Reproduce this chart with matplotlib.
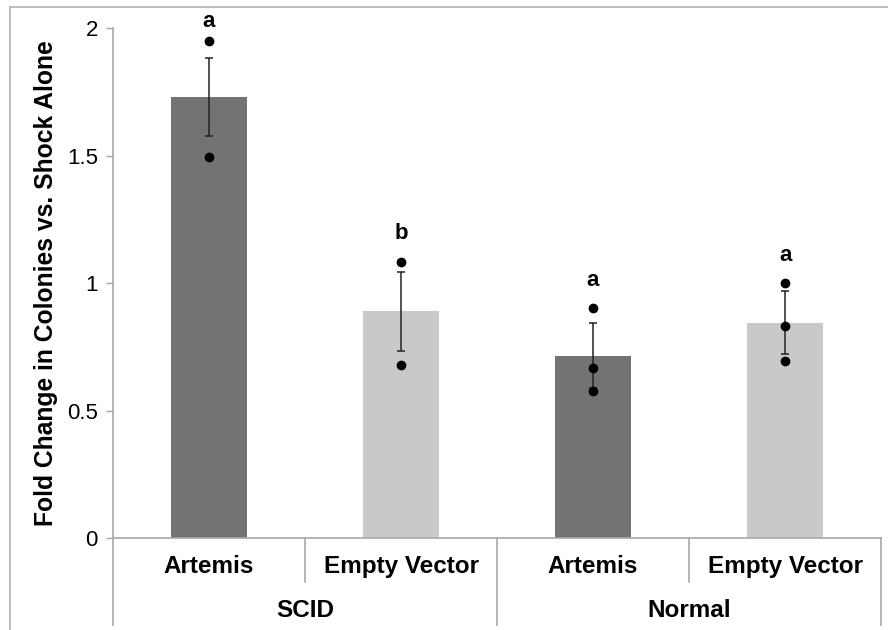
import matplotlib
matplotlib.use("Agg")
import matplotlib.pyplot as plt
from matplotlib.lines import Line2D
import matplotlib.transforms as mtransforms

plt.rcParams['font.family'] = ['Liberation Sans', 'DejaVu Sans']

# Data
groups = ["SCID", "Normal"]
conditions = ["Artemis", "Empty Vector", "Artemis", "Empty Vector"]
means = [1.73, 0.891, 0.716, 0.846]
errors = [0.154, 0.155, 0.127, 0.125]
replicates = [
    [1.951, 1.497],
    [1.085, 0.678],
    [0.902, 0.669, 0.578],
    [1.000, 0.831, 0.697],
]
sig_letters = ["a", "b", "a", "a"]
bar_colors = ["#737373", "#c9c9c9", "#737373", "#c9c9c9"]
yticks = [0, 0.5, 1, 1.5, 2]
ytick_labels = ["0", "0.5", "1", "1.5", "2"]

fig = plt.figure(figsize=(8.88, 6.30), dpi=100)
ax = fig.add_axes([0.1273, 0.1456, 0.8649, 0.8095])

x = list(range(len(means)))
ax.bar(x, means, width=0.4, color=bar_colors, zorder=2)
ax.errorbar(x, means, yerr=errors, fmt="none", ecolor="#222222",
            elinewidth=1.1, capsize=3, capthick=1.1, zorder=3)
for xi, pts in zip(x, replicates):
    ax.plot([xi] * len(pts), pts, "o", color="black", markersize=6, zorder=4)

# significance letters above each group of points
for xi, pts, letter in zip(x, replicates, sig_letters):
    y = min(max(pts) + 0.11, 2.027)
    ax.text(xi, y, letter, ha="center", va="center", fontsize=16,
            fontweight="bold", clip_on=False)

ax.set_xlim(-0.5, 3.5)
ax.set_ylim(0, 2)
ax.set_yticks(yticks)
ax.set_yticklabels(ytick_labels, fontsize=16)
ax.tick_params(axis="y", direction="out", length=5, width=1, color="#a8a8a8",
               pad=6)
ax.set_xticks([])
ax.set_ylabel("Fold Change in Colonies vs. Shock Alone", fontsize=17.7,
              fontweight="bold", labelpad=6)

for side in ["top", "right"]:
    ax.spines[side].set_visible(False)
for side in ["left", "bottom"]:
    ax.spines[side].set_color("#a8a8a8")
    ax.spines[side].set_linewidth(1.2)

# hierarchical category axis
trans = mtransforms.blended_transform_factory(ax.transData, ax.transAxes)
for xb, depth in [(-0.5, -0.17), (0.5, -0.085), (1.5, -0.17),
                  (2.5, -0.085), (3.5, -0.17)]:
    ax.add_line(Line2D([xb, xb], [0, depth], transform=trans, color="#a8a8a8",
                       lw=1.2, clip_on=False))
for xi, label in zip(x, conditions):
    ax.text(xi, -0.056, label, transform=trans, ha="center", va="center",
            fontsize=17.5, fontweight="bold")
for gi, label in enumerate(groups):
    ax.text(2 * gi + 0.5, -0.142, label, transform=trans, ha="center",
            va="center", fontsize=17.5, fontweight="bold")

# outer frame
fig.add_artist(Line2D([10 / 888, 1.0], [1 - 7 / 630, 1 - 7 / 630],
                      transform=fig.transFigure, color="#bdbdbd", lw=1.5))
fig.add_artist(Line2D([10 / 888, 10 / 888], [0, 1 - 7 / 630],
                      transform=fig.transFigure, color="#bdbdbd", lw=1.5))

fig.savefig("out.png", dpi=100)
